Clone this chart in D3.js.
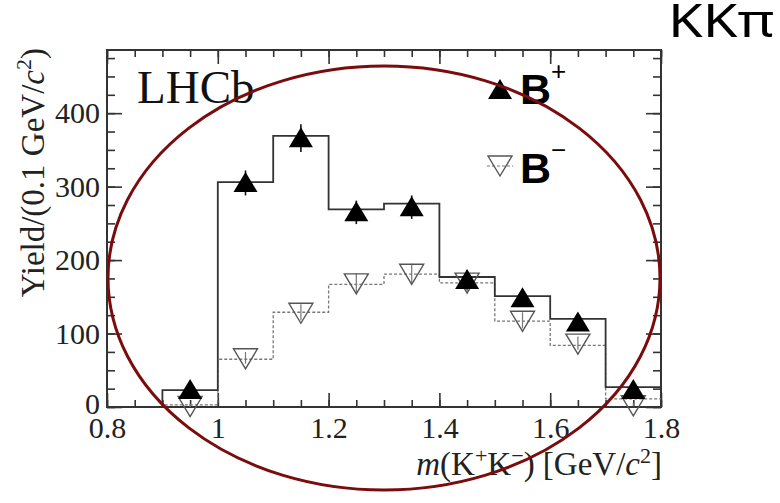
<!DOCTYPE html>
<html>
<head>
<meta charset="utf-8">
<script src="https://cdn.jsdelivr.net/npm/d3@7"></script>
<style>
  body { margin: 0; background: #fff; }
  svg { display: block; }
</style>
</head>
<body>
<div id="chart"></div>
<script>
// datos
const binEdges = [0.8, 0.9, 1.0, 1.1, 1.2, 1.3, 1.4, 1.5, 1.6, 1.7, 1.8];
const binCenters = [0.95, 1.05, 1.15, 1.25, 1.35, 1.45, 1.55, 1.65, 1.75];
const histPlus = [0, 23, 306, 369, 269, 277, 177, 151, 120, 27];
const histMinus = [0, 3, 65, 129, 167, 181, 169, 117, 84, 11];
const yieldPlus = [23, 305, 366, 265, 272, 173, 148, 115, 23];
const errPlus = [6, 17, 19, 16, 16, 13, 12, 11, 6];
const yieldMinus = [2, 67, 129, 169, 182, 170, 118, 87, 3];
const errMinus = [2, 8, 11, 13, 13, 13, 11, 9, 2];
const xTicks = [0.8, 1.0, 1.2, 1.4, 1.6, 1.8];
const yTicks = [0, 100, 200, 300, 400];

const W = 780, H = 503;
const svg = d3.select("#chart").append("svg")
    .attr("width", W)
    .attr("height", H);

const x = d3.scaleLinear().domain([0.8, 1.8]).range([107, 661]);
const y = d3.scaleLinear().domain([0, 486]).range([407, 50]);

const serif = "'Liberation Serif', 'Times New Roman', serif";
const sans = "'Liberation Sans', Arial, sans-serif";

// ejes (ticks hacia adentro)
function styleAxis(g) {
    g.select(".domain").remove();
    g.selectAll(".tick line").attr("stroke", "#333").attr("stroke-width", 1.6);
}

const minorX = d3.range(0.8, 1.8001, 0.05);
const minorY = d3.range(0, 486, 25);

svg.append("g")
    .attr("transform", "translate(0,407)")
    .call(d3.axisBottom(x).tickValues(minorX).tickSize(-7).tickFormat(""))
    .call(styleAxis);
svg.append("g")
    .attr("transform", "translate(0,407)")
    .call(d3.axisBottom(x).tickValues(xTicks).tickSize(-14).tickPadding(10).tickFormat(d3.format("~g")))
    .call(styleAxis)
    .call(g => g.selectAll("text").attr("font-family", serif).attr("font-size", 30).attr("fill", "#222"));

svg.append("g")
    .attr("transform", "translate(0,50)")
    .call(d3.axisTop(x).tickValues(minorX).tickSize(-7).tickFormat(""))
    .call(styleAxis);
svg.append("g")
    .attr("transform", "translate(0,50)")
    .call(d3.axisTop(x).tickValues(xTicks).tickSize(-14).tickFormat(""))
    .call(styleAxis);

svg.append("g")
    .attr("transform", "translate(107,0)")
    .call(d3.axisLeft(y).tickValues(minorY).tickSize(-8).tickFormat(""))
    .call(styleAxis);
svg.append("g")
    .attr("transform", "translate(107,0)")
    .call(d3.axisLeft(y).tickValues(yTicks).tickSize(-15).tickPadding(7).tickFormat(d3.format("d")))
    .call(styleAxis)
    .call(g => g.selectAll("text").attr("font-family", serif).attr("font-size", 30).attr("fill", "#222"))
    .call(g => g.selectAll(".tick").filter(d => d === 0).select("text").attr("dy", "0.2em"));

svg.append("g")
    .attr("transform", "translate(661,0)")
    .call(d3.axisRight(y).tickValues(minorY).tickSize(-8).tickFormat(""))
    .call(styleAxis);
svg.append("g")
    .attr("transform", "translate(661,0)")
    .call(d3.axisRight(y).tickValues(yTicks).tickSize(-15).tickFormat(""))
    .call(styleAxis);

// marco
svg.append("rect")
    .attr("x", x(0.8)).attr("y", y(486))
    .attr("width", x(1.8) - x(0.8)).attr("height", y(0) - y(486))
    .attr("fill", "none").attr("stroke", "#333").attr("stroke-width", 2);

// histogramas
const stepLine = d3.line()
    .x(d => x(d[0]))
    .y(d => y(d[1]))
    .curve(d3.curveStepAfter);

function histPoints(vals) {
    const pts = vals.map((v, i) => [binEdges[i], v]);
    pts.push([binEdges[binEdges.length - 1], vals[vals.length - 1]]);
    return pts;
}

svg.append("path")
    .attr("d", stepLine(histPoints(histMinus)))
    .attr("fill", "none")
    .attr("stroke", "#777")
    .attr("stroke-width", 1.3)
    .attr("stroke-dasharray", "3,2");

svg.append("path")
    .attr("d", stepLine(histPoints(histPlus)))
    .attr("fill", "none")
    .attr("stroke", "#333")
    .attr("stroke-width", 1.8);

// simbolos
const triUp = "M0,-11L12,9L-12,9Z";
const triDown = "M0,11L12,-9L-12,-9Z";

const minusData = binCenters.map((c, i) => ({ x: c, v: yieldMinus[i], e: errMinus[i] }));
const plusData = binCenters.map((c, i) => ({ x: c, v: yieldPlus[i], e: errPlus[i] }));

svg.append("g").selectAll("line")
    .data(minusData)
    .join("line")
    .attr("x1", d => x(d.x)).attr("x2", d => x(d.x))
    .attr("y1", d => y(d.v - d.e)).attr("y2", d => y(d.v + d.e))
    .attr("stroke", "#777").attr("stroke-width", 1.2);

svg.append("g").selectAll("path")
    .data(minusData)
    .join("path")
    .attr("d", triDown)
    .attr("transform", d => `translate(${x(d.x)},${y(d.v)})`)
    .attr("fill", "none")
    .attr("stroke", "#555")
    .attr("stroke-width", 1.4);

svg.append("g").selectAll("line")
    .data(plusData)
    .join("line")
    .attr("x1", d => x(d.x)).attr("x2", d => x(d.x))
    .attr("y1", d => y(d.v - d.e)).attr("y2", d => y(d.v + d.e))
    .attr("stroke", "#111").attr("stroke-width", 1.6);

svg.append("g").selectAll("path")
    .data(plusData)
    .join("path")
    .attr("d", triUp)
    .attr("transform", d => `translate(${x(d.x)},${y(d.v)})`)
    .attr("fill", "#000");

// leyenda
svg.append("path").attr("d", triUp).attr("transform", "translate(500,90)").attr("fill", "#000");
svg.append("line").attr("x1", 487).attr("x2", 513).attr("y1", 166).attr("y2", 166)
    .attr("stroke", "#777").attr("stroke-width", 1.2).attr("stroke-dasharray", "3,2");
svg.append("path").attr("d", triDown).attr("transform", "translate(500,165)")
    .attr("fill", "none").attr("stroke", "#555").attr("stroke-width", 1.4);

const legPlus = svg.append("text").attr("x", 520).attr("y", 104)
    .attr("font-family", sans).attr("font-weight", "bold").attr("font-size", 43).attr("fill", "#000");
legPlus.append("tspan").text("B");
legPlus.append("tspan").attr("dy", -24).attr("font-size", 26).attr("font-weight", "normal").text("+");

const legMinus = svg.append("text").attr("x", 520).attr("y", 183)
    .attr("font-family", sans).attr("font-weight", "bold").attr("font-size", 43).attr("fill", "#000");
legMinus.append("tspan").text("B");
legMinus.append("tspan").attr("dy", -24).attr("font-size", 26).attr("font-weight", "normal").text("\u2212");

// LHCb
svg.append("text")
    .attr("x", 137).attr("y", 103)
    .attr("font-family", serif).attr("font-size", 47).attr("fill", "#111")
    .text("LHCb");

// titulos de ejes
const yTitle = svg.append("text")
    .attr("transform", "translate(44,48) rotate(-90)")
    .attr("text-anchor", "end")
    .attr("font-family", serif).attr("font-size", 33).attr("fill", "#222");
yTitle.append("tspan").text("Yield/(0.1 GeV/");
yTitle.append("tspan").attr("font-style", "italic").text("c");
yTitle.append("tspan").attr("dy", -13).attr("font-size", 22).text("2");
yTitle.append("tspan").attr("dy", 13).text(")");

const xTitle = svg.append("text")
    .attr("x", 662).attr("y", 475)
    .attr("text-anchor", "end")
    .attr("font-family", serif).attr("font-size", 33).attr("fill", "#222");
xTitle.append("tspan").attr("font-style", "italic").text("m");
xTitle.append("tspan").text("(K");
xTitle.append("tspan").attr("dy", -12).attr("font-size", 22).text("+");
xTitle.append("tspan").attr("dy", 12).text("K");
xTitle.append("tspan").attr("dy", -12).attr("font-size", 22).text("\u2212");
xTitle.append("tspan").attr("dy", 12).text(") [GeV/");
xTitle.append("tspan").attr("font-style", "italic").text("c");
xTitle.append("tspan").attr("dy", -12).attr("font-size", 22).text("2");
xTitle.append("tspan").attr("dy", 12).text("]");

// titulo
svg.append("text")
    .attr("x", 668).attr("y", 37)
    .attr("font-family", "'Noto Sans', 'Open Sans', sans-serif")
    .attr("font-size", 46).attr("fill", "#000")
    .attr("textLength", 106)
    .attr("lengthAdjust", "spacingAndGlyphs")
    .text("KK\u03c0");

// elipse de anotacion
svg.append("ellipse")
    .attr("cx", x(1.3)).attr("cy", 278)
    .attr("rx", x(1.8) - x(1.3) - 1).attr("ry", 212)
    .attr("fill", "none")
    .attr("stroke", "#7a0c0c")
    .attr("stroke-width", 3);
</script>
</body>
</html>
